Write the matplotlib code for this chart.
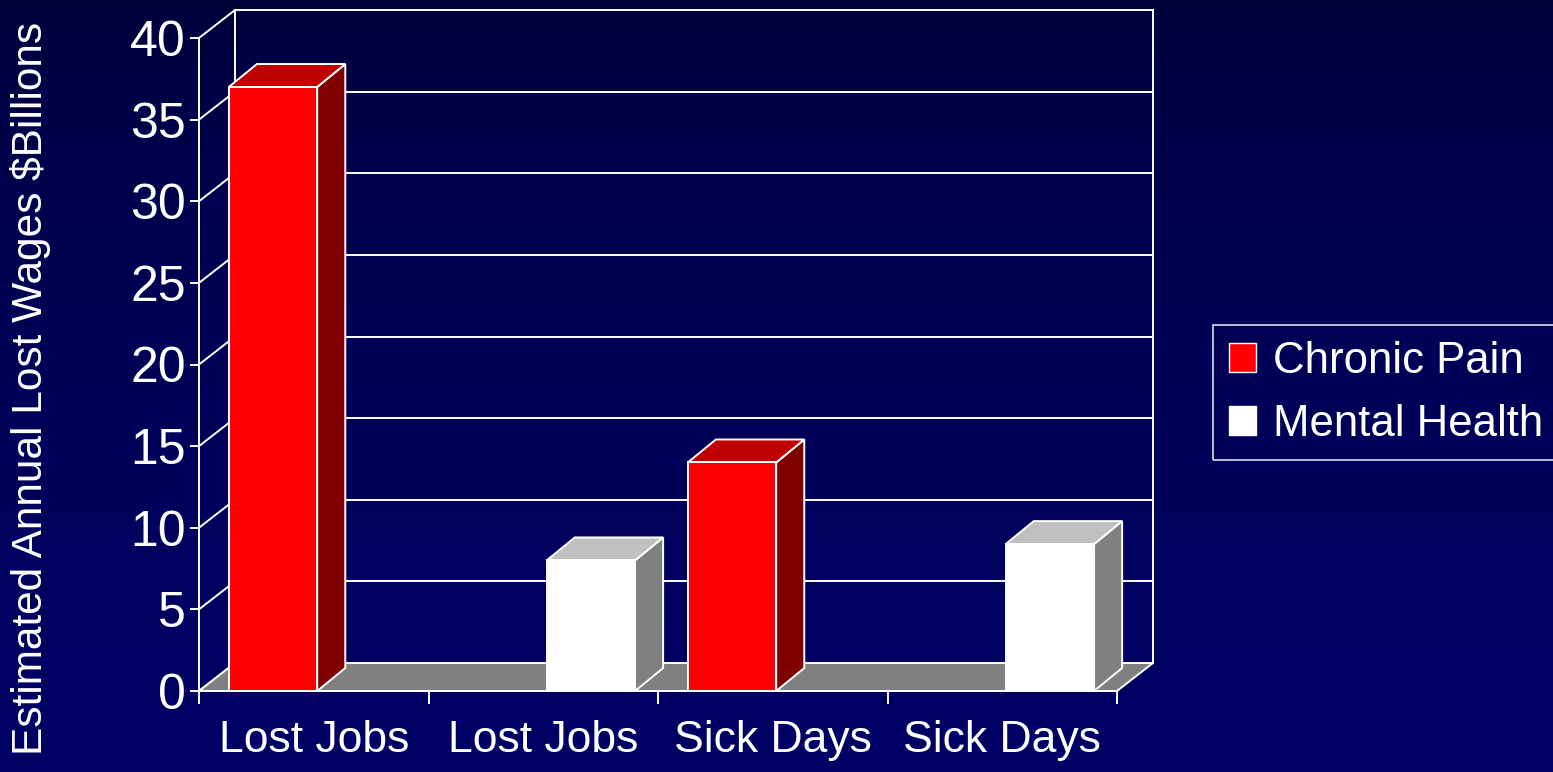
import matplotlib.pyplot as plt
from matplotlib.patches import Polygon, Patch
import numpy as np

# data
categories = ["Lost Jobs", "Lost Jobs", "Sick Days", "Sick Days"]
chronic_pain = [37, np.nan, 14, np.nan]
mental_health = [np.nan, 8, np.nan, 9]
series_names = ["Chronic Pain", "Mental Health"]
yticks = [0, 5, 10, 15, 20, 25, 30, 35, 40]

# colours: front, top, side
face_cols = [("#ff0000", "#c00000", "#800000"), ("#ffffff", "#c0c0c0", "#808080")]

plt.rcParams['font.family'] = ['Liberation Sans', 'DejaVu Sans']

fig = plt.figure(figsize=(15.53, 7.72), dpi=100)

# dark blue gradient background
bg = fig.add_axes([0, 0, 1, 1], zorder=-1)
t = np.linspace(0, 1, 256).reshape(-1, 1)
img = np.zeros((256, 1, 3))
img[:, :, 2] = 0.21 + 0.19 * np.sqrt(t)
bg.imshow(img, aspect='auto', extent=[0, 1, 0, 1], origin='upper')
bg.axis('off')

ax = fig.add_axes([199 / 1553, 81 / 772, 918 / 1553, 653 / 772])
ax.patch.set_visible(False)
ncat = len(categories)
ymax = yticks[-1]
ax.set_xlim(0, ncat)
ax.set_ylim(0, ymax)

# depth of the "3d" box in data units
DX = ncat * 36 / 918
DY = ymax * 28 / 653
lw = 1.4
wc = "white"

# side wall diagonals + back wall gridlines
for v in yticks:
    ax.plot([0, DX], [v, v + DY], color=wc, lw=lw, clip_on=False, zorder=1)
    if v > 0:
        ax.plot([DX, ncat + DX], [v + DY, v + DY], color=wc, lw=lw, clip_on=False, zorder=1)
ax.plot([DX, DX], [DY, ymax + DY], color=wc, lw=lw, clip_on=False, zorder=1)
ax.plot([ncat + DX, ncat + DX], [DY, ymax + DY], color=wc, lw=lw, clip_on=False, zorder=1)

# floor
floor = Polygon([(0, 0), (ncat, 0), (ncat + DX, DY), (DX, DY)], closed=True,
                facecolor="#808080", edgecolor=wc, lw=lw, clip_on=False, zorder=2)
ax.add_patch(floor)

# bars
bw = 0.385
offs = [0.13, 0.515]
bdx = DX * 0.78
bdy = DY * 0.82
for s, vals in enumerate([chronic_pain, mental_health]):
    fc, tc, sc = face_cols[s]
    for i, v in enumerate(vals):
        if np.isnan(v):
            continue
        x0 = i + offs[s]
        x1 = x0 + bw
        front = Polygon([(x0, 0), (x1, 0), (x1, v), (x0, v)], closed=True,
                        facecolor=fc, edgecolor=wc, lw=lw, clip_on=False, zorder=3)
        top = Polygon([(x0, v), (x1, v), (x1 + bdx, v + bdy), (x0 + bdx, v + bdy)], closed=True,
                      facecolor=tc, edgecolor=wc, lw=lw, clip_on=False, zorder=3)
        side = Polygon([(x1, 0), (x1 + bdx, bdy), (x1 + bdx, v + bdy), (x1, v)], closed=True,
                       facecolor=sc, edgecolor=wc, lw=lw, clip_on=False, zorder=3)
        for p in (side, top, front):
            ax.add_patch(p)

# axes lines and ticks
for sp in ['top', 'right']:
    ax.spines[sp].set_visible(False)
for sp in ['left', 'bottom']:
    ax.spines[sp].set_color(wc)
    ax.spines[sp].set_linewidth(lw)
    ax.spines[sp].set_zorder(4)

ax.set_yticks(yticks)
ax.tick_params(axis='y', colors=wc, length=6.5, width=lw, labelsize=36, pad=3)
ax.set_xticks(range(ncat + 1))
ax.set_xticklabels([])
ax.set_xticks([i + 0.5 for i in range(ncat)], minor=True)
ax.set_xticklabels(categories, minor=True)
ax.tick_params(axis='x', which='major', colors=wc, length=9, width=lw)
ax.tick_params(axis='x', which='minor', colors=wc, length=0, labelsize=32, pad=21)

fig.text(31 / 1553, 1 - 388 / 772, "Estimated Annual Lost Wages $Billions", rotation=90,
         color=wc, fontsize=30.5, ha='center', va='center')

handles = [Patch(facecolor=face_cols[0][0], edgecolor=wc, lw=1),
           Patch(facecolor=face_cols[1][0], edgecolor=wc, lw=1)]
leg = fig.legend(handles, series_names, loc='upper left',
                 bbox_to_anchor=(1213 / 1553, 1 - 325 / 772), borderaxespad=0,
                 fontsize=31.5, frameon=True, fancybox=False, handlelength=0.63,
                 handleheight=0.65, handletextpad=0.38, borderpad=0.36, labelspacing=0.5)
leg.get_frame().set_facecolor('none')
leg.get_frame().set_edgecolor(wc)
leg.get_frame().set_linewidth(1.3)
for txt in leg.get_texts():
    txt.set_color(wc)

fig.savefig("out.png", dpi=100)
